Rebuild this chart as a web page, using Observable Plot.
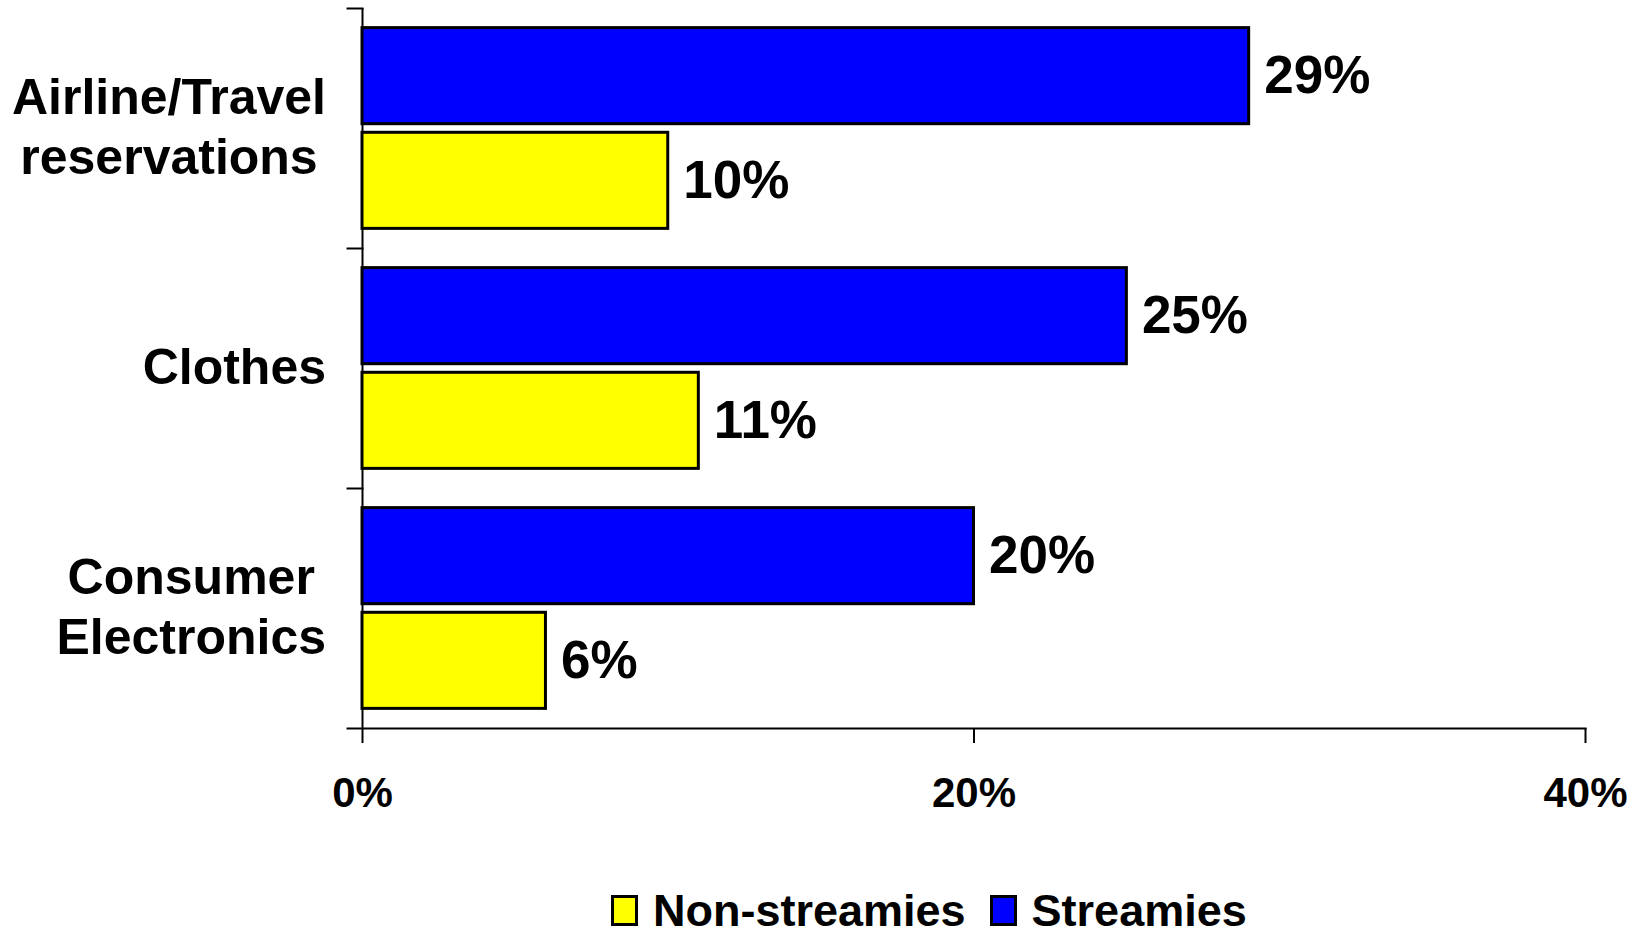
<!DOCTYPE html>
<html>
<head>
<meta charset="utf-8">
<script src="https://cdn.jsdelivr.net/npm/d3@7"></script>
<script src="https://cdn.jsdelivr.net/npm/@observablehq/plot@0.6"></script>
<style>
  html, body { margin: 0; padding: 0; background: #fff; overflow: hidden; }
  #wrap { position: relative; width: 1635px; height: 930px; }
  #legend {
    position: absolute; left: 611px; top: 888px;
    display: flex; align-items: center;
    font-family: "Liberation Sans", Arial, sans-serif; font-weight: bold;
    font-size: 45px; line-height: 45px; color: #000; white-space: nowrap;
  }
  #legend .item { display: flex; align-items: center; margin-right: 24px; }
  #legend .swatch {
    box-sizing: border-box; width: 27px; height: 31px;
    border: 3px solid #000; margin-right: 15px;
  }
</style>
</head>
<body>
<div id="wrap">
  <div id="chart"></div>
  <div id="legend"></div>
</div>
<script>
// Share of each group buying online, by product category (percent)
const categories = ["Airline/Travel reservations", "Clothes", "Consumer Electronics"];
const categoryLabels = ["Airline/Travel\nreservations", "Clothes", "Consumer\nElectronics"];
const series = ["Streamies", "Non-streamies"];
const seriesColors = ["#0000FF", "#FFFF00"];
const streamies = [29, 25, 20];
const nonStreamies = [10, 11, 6];
const xTicks = [0, 20, 40];
const legendOrder = ["Non-streamies", "Streamies"];

const rows = categories.flatMap((c, i) => [
  {category: c, series: "Streamies", value: streamies[i]},
  {category: c, series: "Non-streamies", value: nonStreamies[i]}
]);

const width = 1635, height = 880;
const marginLeft = 362, marginRight = 50, marginTop = 8, marginBottom = 152;
const innerWidth = width - marginLeft - marginRight;
const font = "'Liberation Sans', Arial, sans-serif";
const labelSize = 50;

// width of the widest line of a label, for centring each label block
const ctx = document.createElement("canvas").getContext("2d");
ctx.font = `bold ${labelSize}px ${font}`;
const blockWidth = (s) => d3.max(s.split("\n"), (line) => ctx.measureText(line).width);

const labelMarks = categories.map((c, i) =>
  Plot.text([c], {
    fy: (d) => d,
    text: () => categoryLabels[i],
    frameAnchor: "left",
    textAnchor: "middle",
    lineHeight: 1.2,
    dx: -(36.5 + blockWidth(categoryLabels[i]) / 2),
    dy: -4,
    fontSize: labelSize,
    fontWeight: "bold",
    fill: "#000"
  })
);

const chart = Plot.plot({
  width, height, marginLeft, marginRight, marginTop, marginBottom,
  style: {fontFamily: font, background: "#fff", color: "#000"},
  facet: {marginTop: 0, marginRight: 0, marginBottom: 0, marginLeft: 0},
  fy: {domain: categories, padding: 0, axis: null, round: false},
  y: {domain: series, paddingInner: 0.082, paddingOuter: 0.1875, axis: null, round: false},
  x: {domain: [0, 40]},
  color: {domain: series, range: seriesColors},
  marks: [
    // boundary ticks between categories, left of the value axis
    Plot.frame({anchor: "top", insetLeft: -15, insetRight: innerWidth, stroke: "#000", strokeWidth: 2}),
    // category axis line
    Plot.ruleX([0], {stroke: "#000", strokeWidth: 2}),
    // value axis baseline
    Plot.frame({anchor: "bottom", facetAnchor: "bottom", insetLeft: -15, stroke: "#000", strokeWidth: 2}),
    Plot.barX(rows, {
      fy: "category", y: "series", x1: 0, x2: "value",
      fill: "series", stroke: "#000", strokeWidth: 3
    }),
    Plot.text(rows, {
      fy: "category", y: "series", x: "value",
      text: (d) => `${d.value}%`,
      textAnchor: "start", dx: 15,
      fontSize: 53, fontWeight: "bold", fill: "#000"
    }),
    ...labelMarks,
    Plot.axisX({
      ticks: xTicks, tickFormat: (d) => `${d}%`,
      tickSize: 15, tickPadding: 34, strokeWidth: 2,
      fontSize: 42, fontWeight: "bold", fill: "#000", label: null
    })
  ]
});
document.getElementById("chart").appendChild(chart);

// legend
const legend = d3.select("#legend");
legendOrder.forEach((s) => {
  const item = legend.append("div").attr("class", "item");
  item.append("div").attr("class", "swatch")
    .style("background", seriesColors[series.indexOf(s)]);
  item.append("span").text(s);
});
</script>
</body>
</html>
